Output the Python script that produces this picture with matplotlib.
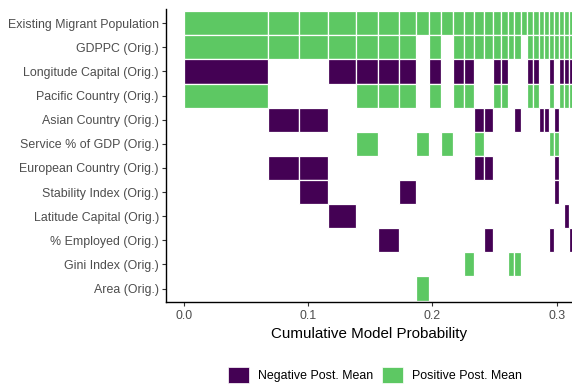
import matplotlib
matplotlib.use("Agg")
import matplotlib.pyplot as plt
from matplotlib.patches import Patch
import numpy as np

plt.rcParams["font.family"] = ["Liberation Sans", "DejaVu Sans"]

# Variables shown (top to bottom)
variables = [
    "Existing Migrant Population",
    "GDPPC (Orig.)",
    "Longitude Capital (Orig.)",
    "Pacific Country (Orig.)",
    "Asian Country (Orig.)",
    "Service % of GDP (Orig.)",
    "European Country (Orig.)",
    "Stability Index (Orig.)",
    "Latitude Capital (Orig.)",
    "% Employed (Orig.)",
    "Gini Index (Orig.)",
    "Area (Orig.)",
]

# Posterior probability of each model, in rank order
model_probs = [
    0.0674, 0.0254, 0.0234, 0.0225, 0.0177, 0.0165, 0.0141, 0.0104,
    0.0099, 0.0093, 0.0091, 0.0080, 0.0079, 0.0075, 0.0060, 0.0054,
    0.0054, 0.0053, 0.0049, 0.0049, 0.0048, 0.0043, 0.0040, 0.0040,
    0.0040, 0.0039, 0.0039, 0.0039,
]

# Inclusion per variable and model: '+' positive, '-' negative, '.' excluded
inclusion = [
    "++++++++++++++++++++++++++++",
    "+++++++.+.++++++++.+++++++++",
    "-..----.-.--..--...--..-.---",
    "+...+++.+.++..++...++..+.+++",
    ".--.........--...-...--.-...",
    "....+..+.+..+..........++...",
    ".--.........--..........-...",
    "..-...-.................-...",
    "...-......................-.",
    ".....-.......-.........-...-",
    "...........+....++..........",
    ".......+....................",
]

x_ticks = [0.0, 0.1, 0.2, 0.3]
x_tick_labels = ["0.0", "0.1", "0.2", "0.3"]

neg_color = "#440154"
pos_color = "#5DC863"

for row in inclusion:
    assert len(row) == len(model_probs)

fig = plt.figure(figsize=(5.72, 3.86), dpi=100)
ax = fig.add_axes([0.2897, 0.2176, 1.0 - 0.2897, 0.9767 - 0.2176])

lefts = np.concatenate([[0.0], np.cumsum(model_probs)[:-1]])

for i, row in enumerate(inclusion):
    for j, flag in enumerate(row):
        if flag == ".":
            continue
        ax.barh(i, model_probs[j], left=lefts[j], height=1.0,
                color=pos_color if flag == "+" else neg_color,
                edgecolor="white", linewidth=0.9, align="center")

ax.set_xlim(-0.0147, 0.3124)
ax.set_ylim(len(variables) - 1 + 0.56, -0.59)

ax.set_yticks(range(len(variables)))
ax.set_yticklabels(variables)
ax.set_xticks(x_ticks)
ax.set_xticklabels(x_tick_labels)

ax.tick_params(axis="both", length=3, width=0.8, color="#333333",
               labelcolor="#4D4D4D", labelsize=8.9)
ax.tick_params(axis="y", pad=2)
ax.tick_params(axis="x", pad=3)
for side in ["top", "right"]:
    ax.spines[side].set_visible(False)
for side in ["left", "bottom"]:
    ax.spines[side].set_linewidth(1.0)
    ax.spines[side].set_color("black")

ax.set_xlabel("Cumulative Model Probability", fontsize=10.9, color="black",
              labelpad=3)

handles = [Patch(facecolor=neg_color, edgecolor="white", linewidth=0.5),
           Patch(facecolor=pos_color, edgecolor="white", linewidth=0.5)]
fig.legend(handles, ["Negative Post. Mean", "Positive Post. Mean"],
           loc="center", bbox_to_anchor=(0.6554, 0.0285), ncol=2,
           frameon=False, fontsize=8.9, handlelength=1.7, handleheight=1.7,
           handletextpad=0.7, columnspacing=0.78, borderpad=0)

fig.savefig("out.png", dpi=100)
